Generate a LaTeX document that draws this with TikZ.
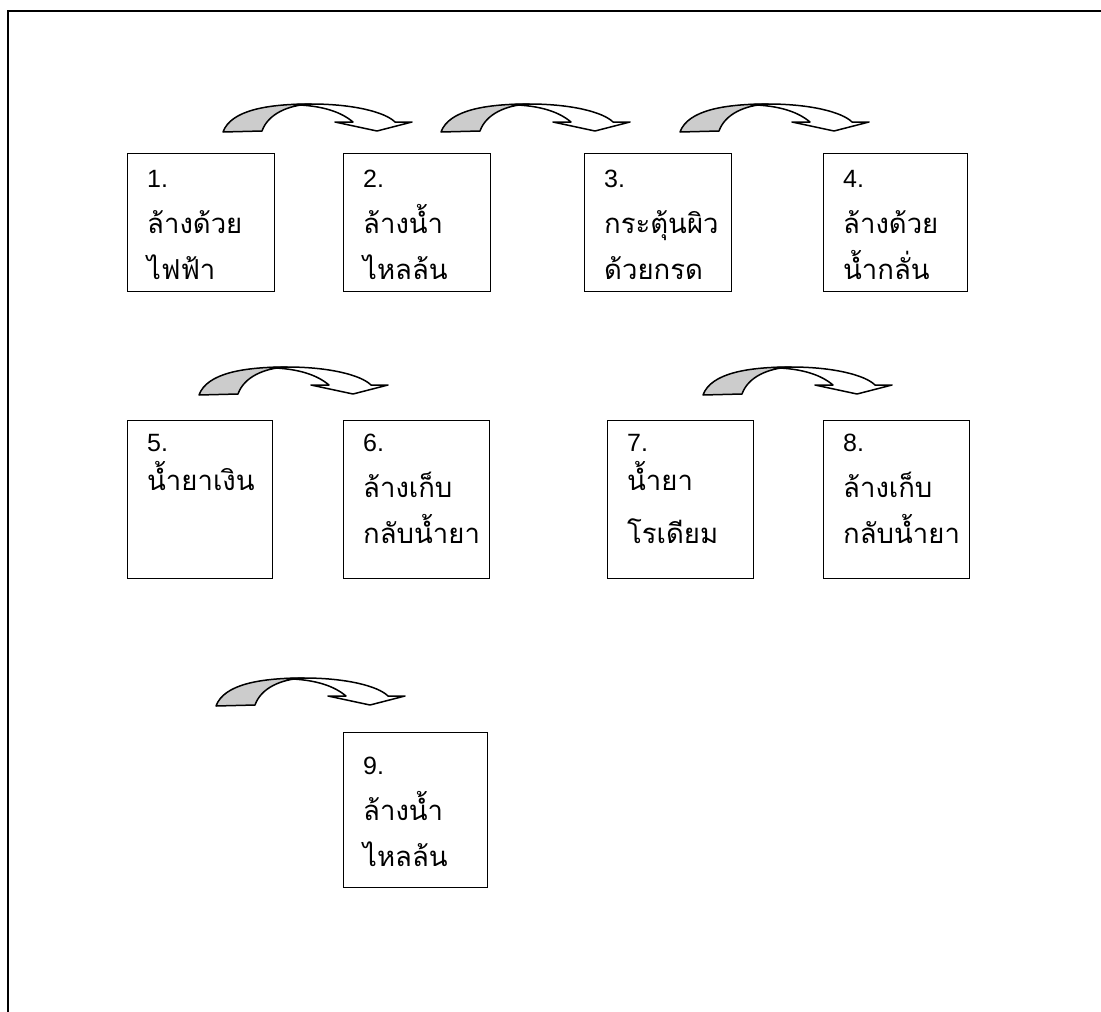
\documentclass[tikz,border=0pt]{standalone}
\usepackage{fontspec}
\setmainfont{Liberation Sans}
\newfontfamily\thaifont[Script=Thai]{Loma}
\definecolor{backgray}{HTML}{CCCCCC}
\tikzset{
  stepbox/.style={draw=black, line width=1.4pt, anchor=north west, inner sep=0pt},
  numlbl/.style={anchor=base west, inner sep=0pt, font=\fontsize{25}{25}\selectfont},
  thlbl/.style={anchor=base west, inner sep=0pt, font=\thaifont\fontsize{27.5}{27.5}\selectfont},
  curvearrow/.pic={
    \begin{scope}[yscale=-1]
      \filldraw[fill=backgray, draw=black, line width=1.5pt, line join=round]
        (0,0) .. controls (8,22) and (45,28) .. (88,28)
        .. controls (65,27) and (45,18) .. (39,1) -- cycle;
      \filldraw[fill=white, draw=black, line width=1.5pt, line join=round]
        (70,27.3) -- (88,28) .. controls (130,28) and (162,20) .. (172,10)
        -- (189,10) -- (154,1) -- (112,10) -- (130,10)
        .. controls (118,20) and (100,26.5) .. (70,27.3) -- cycle;
    \end{scope}
  }
}
\begin{document}
\begin{tikzpicture}[x=1pt, y=-1pt]
\useasboundingbox (0,0) rectangle (1101,1012);
\fill[white] (0,0) rectangle (1101,1012);
% frame
\draw[line width=2pt] (1101,11) -- (7.5,11) -- (7.5,1012);

% arrows
\pic at (223,132) {curvearrow};
\pic at (441,132) {curvearrow};
\pic at (680,132) {curvearrow};
\pic at (199,395) {curvearrow};
\pic at (703,395) {curvearrow};
\pic at (216,706) {curvearrow};

% row 1 boxes
\node[stepbox, minimum width=147pt, minimum height=138pt] (b1) at (127,153) {};
\node[stepbox, minimum width=147pt, minimum height=138pt] (b2) at (343,153) {};
\node[stepbox, minimum width=147pt, minimum height=138pt] (b3) at (584,153) {};
\node[stepbox, minimum width=144pt, minimum height=138pt] (b4) at (823,153) {};
% row 2 boxes
\node[stepbox, minimum width=145pt, minimum height=158pt] (b5) at (127,420) {};
\node[stepbox, minimum width=146pt, minimum height=158pt] (b6) at (343,420) {};
\node[stepbox, minimum width=146pt, minimum height=158pt] (b7) at (607,420) {};
\node[stepbox, minimum width=146pt, minimum height=158pt] (b8) at (823,420) {};
% row 3 box
\node[stepbox, minimum width=144pt, minimum height=155pt] (b9) at (343,732) {};

% texts row 1
\node[numlbl] (n1) at (147,187) {1.};
\node[thlbl] (n1a) at (147,233) {ล้างด้วย};
\node[thlbl] (n1b) at (147,279) {ไฟฟ้า};
\node[numlbl] (n2) at (363,187) {2.};
\node[thlbl] (n2a) at (363,233) {ล้างน้ำ};
\node[thlbl] (n2b) at (363,279) {ไหลล้น};
\node[numlbl] (n3) at (604,187) {3.};
\node[thlbl] (n3a) at (604,233) {กระตุ้นผิว};
\node[thlbl] (n3b) at (604,279) {ด้วยกรด};
\node[numlbl] (n4) at (843,187) {4.};
\node[thlbl] (n4a) at (843,233) {ล้างด้วย};
\node[thlbl] (n4b) at (843,279) {น้ำกลั่น};
% texts row 2
\node[numlbl] (n5) at (147,451) {5.};
\node[thlbl] (n5a) at (147,490) {น้ำยาเงิน};
\node[numlbl] (n6) at (363,451) {6.};
\node[thlbl] (n6a) at (363,497) {ล้างเก็บ};
\node[thlbl] (n6b) at (363,543) {กลับน้ำยา};
\node[numlbl] (n7) at (627,451) {7.};
\node[thlbl] (n7a) at (627,490) {น้ำยา};
\node[thlbl] (n7b) at (627,543) {โรเดียม};
\node[numlbl] (n8) at (843,451) {8.};
\node[thlbl] (n8a) at (843,497) {ล้างเก็บ};
\node[thlbl] (n8b) at (843,543) {กลับน้ำยา};
% texts row 3
\node[numlbl] (n9) at (363,774) {9.};
\node[thlbl] (n9a) at (363,820) {ล้างน้ำ};
\node[thlbl] (n9b) at (363,866) {ไหลล้น};
\end{tikzpicture}
\end{document}
